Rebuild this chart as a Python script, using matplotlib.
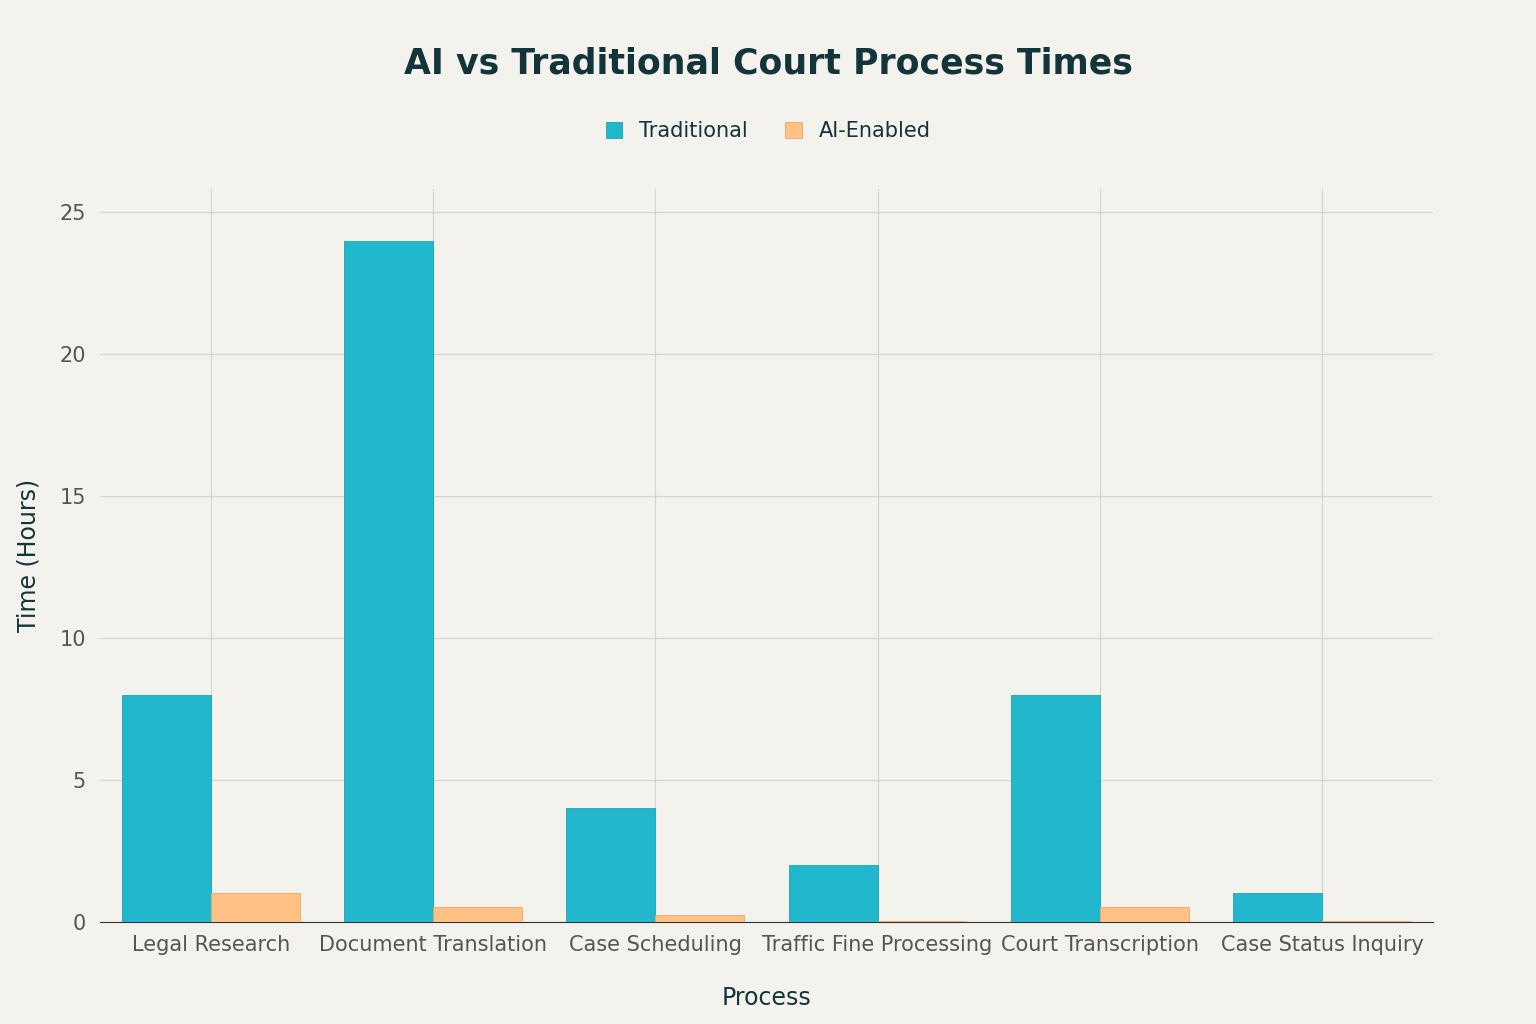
import matplotlib.pyplot as plt
import numpy as np

categories = ["Legal Research", "Document Translation", "Case Scheduling",
              "Traffic Fine Processing", "Court Transcription", "Case Status Inquiry"]
traditional = [8, 24, 4, 2, 8, 1]
ai_enabled = [1, 0.5, 0.25, 0.02, 0.5, 0.01]

BG = "#F3F2EC"
C_TRAD = "#21B8CD"
C_AI = "#FFC184"
TXT = "#13343B"

fig = plt.figure(figsize=(15.36, 10.24), dpi=100, facecolor=BG)
ax = fig.add_axes([0.065, 0.10, 0.868, 0.715], facecolor=BG)

x = np.arange(len(categories))
w = 0.4
ax.bar(x - w / 2, traditional, w, color=C_TRAD, edgecolor="#1aa3b5", lw=0.6, label="Traditional", zorder=3)
ax.bar(x + w / 2, ai_enabled, w, color=C_AI, edgecolor="#e8a96c", lw=0.6, label="AI-Enabled", zorder=3)

ax.set_xlim(-0.5, 5.5)
ax.set_ylim(0, 25.8)
ax.set_yticks([0, 5, 10, 15, 20, 25])
ax.set_xticks(x)
ax.set_xticklabels(categories)
ax.grid(True, color="#D4D4D0", lw=0.9, zorder=0)
for s in ["top", "right", "left"]:
    ax.spines[s].set_visible(False)
ax.spines["bottom"].set_color("#333333")
ax.tick_params(length=0, labelsize=15, colors="#555555", pad=10)

ax.set_xlabel("Process", fontsize=17, color=TXT, labelpad=22)
ax.set_ylabel("Time (Hours)", fontsize=17, color=TXT, labelpad=14)

fig.text(0.5, 0.938, "AI vs Traditional Court Process Times", ha="center", va="center",
         fontsize=25, fontweight="bold", color=TXT)
fig.legend(loc="center", bbox_to_anchor=(0.5, 0.872), ncol=2, frameon=False,
           fontsize=15, handlelength=0.8, handleheight=0.8, columnspacing=1.8,
           labelcolor=TXT)

fig.savefig("out.png", dpi=100, facecolor=BG)
